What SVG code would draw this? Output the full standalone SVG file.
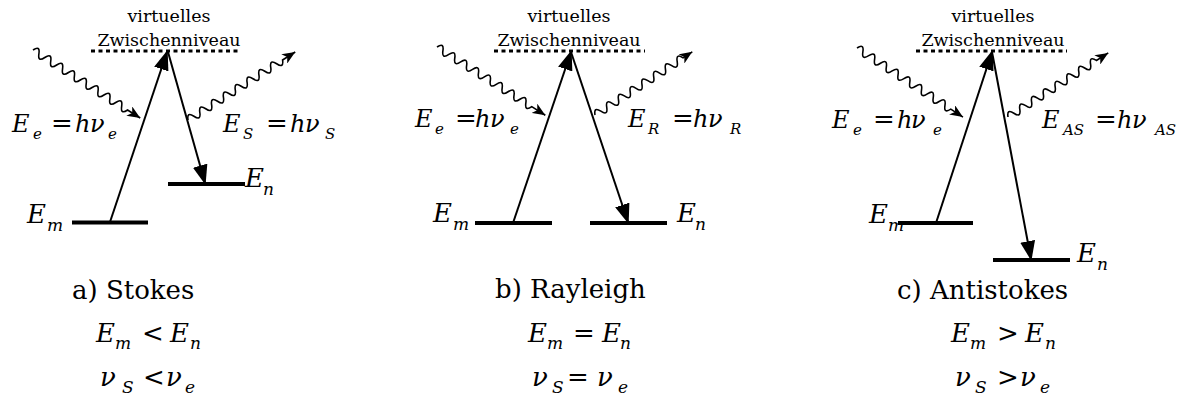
<svg xmlns="http://www.w3.org/2000/svg" width="1192" height="400" viewBox="0 0 1192 400">
<style>
text { font-family: 'DejaVu Serif', serif; fill: #000; }
.i { font-style: italic; }
.u { font-style: normal; }
.eq { font-size: 24px; }
.eq .s { font-size: 15px; }
.eq .u { font-size: 26px; }
.lv { font-size: 26px; }
.lv .s { font-size: 17px; }
.cap { font-size: 26px; }
.vz { font-size: 17.5px; }
.bar { stroke: #000; stroke-width: 4; }
.dot { stroke: #000; stroke-width: 3; stroke-dasharray: 4 3.5; }
.tr { stroke: #000; stroke-width: 2; fill: none; marker-end: url(#ah); }
.wv { stroke: #000; stroke-width: 1.6; fill: none; marker-end: url(#wh); }
</style>
<defs>
<marker id="ah" markerUnits="userSpaceOnUse" markerWidth="20" markerHeight="15" refX="18" refY="7.5" orient="auto">
<path d="M0,0 L20,7.5 L0,15 z" fill="#000"/>
</marker>
<marker id="wh" markerUnits="userSpaceOnUse" markerWidth="14" markerHeight="11" refX="13" refY="5.5" orient="auto">
<path d="M0,0 L13,5.5 L0,11 L3.5,5.5 z" fill="#000"/>
</marker>
</defs>

<!-- Panel a: Stokes -->
<g id="a-virtual">
<text class="vz" x="169" y="22" text-anchor="middle">virtuelles</text>
<text class="vz" x="169" y="46" text-anchor="middle">Zwischenniveau</text>
<line class="dot" x1="91" y1="51" x2="241" y2="51"/>
</g>
<g id="a-Em">
<line class="bar" x1="72" y1="222.5" x2="148" y2="222.5"/>
<text class="lv i"><tspan x="27" y="223">E</tspan><tspan class="s" x="47" y="231">m</tspan></text>
</g>
<g id="a-En">
<line class="bar" x1="168" y1="184" x2="245" y2="184"/>
<text class="lv i"><tspan x="245" y="187">E</tspan><tspan class="s" x="263" y="195">n</tspan></text>
</g>
<g id="a-Ee">
<text class="eq i"><tspan x="12" y="132">E</tspan><tspan class="s" x="33" y="139">e</tspan><tspan class="u" x="51" y="132">=</tspan><tspan x="75" y="132">h</tspan><tspan x="90" y="132">ν</tspan><tspan class="s" x="108" y="139">e</tspan></text>
</g>
<g id="a-Es">
<text class="eq i"><tspan x="223" y="132">E</tspan><tspan class="s" x="243" y="139">S</tspan><tspan class="u" x="266" y="132">=</tspan><tspan x="290" y="132">h</tspan><tspan x="305" y="132">ν</tspan><tspan class="s" x="325" y="139">S</tspan></text>
</g>
<g id="a-caption">
<text class="cap" x="72" y="299">a) Stokes</text>
<text class="lv i"><tspan x="96" y="342">E</tspan><tspan class="s" x="115" y="349">m</tspan><tspan class="u" x="142" y="342">&lt;</tspan><tspan x="170" y="342">E</tspan><tspan class="s" x="190" y="349">n</tspan></text>
<text class="lv i"><tspan x="100" y="386">ν</tspan><tspan class="s" x="122" y="393">S</tspan><tspan class="u" x="143" y="386">&lt;</tspan><tspan x="166" y="386">ν</tspan><tspan class="s" x="185" y="393">e</tspan></text>
</g>

<!-- Panel b: Rayleigh -->
<g id="b-virtual">
<text class="vz" x="569" y="22" text-anchor="middle">virtuelles</text>
<text class="vz" x="569" y="46" text-anchor="middle">Zwischenniveau</text>
<line class="dot" x1="494" y1="51" x2="645" y2="51"/>
</g>
<g id="b-Em">
<line class="bar" x1="475" y1="223" x2="552" y2="223"/>
<text class="lv i"><tspan x="433" y="222">E</tspan><tspan class="s" x="453" y="230">m</tspan></text>
</g>
<g id="b-En">
<line class="bar" x1="590" y1="223" x2="667" y2="223"/>
<text class="lv i"><tspan x="677" y="222">E</tspan><tspan class="s" x="695" y="230">n</tspan></text>
</g>
<g id="b-Ee">
<text class="eq i"><tspan x="415" y="127">E</tspan><tspan class="s" x="435" y="134">e</tspan><tspan class="u" x="455" y="127">=</tspan><tspan x="475" y="127">h</tspan><tspan x="490" y="127">ν</tspan><tspan class="s" x="510" y="134">e</tspan></text>
</g>
<g id="b-Er">
<text class="eq i"><tspan x="628" y="127">E</tspan><tspan class="s" x="648" y="134">R</tspan><tspan class="u" x="672" y="127">=</tspan><tspan x="693" y="127">h</tspan><tspan x="708" y="127">ν</tspan><tspan class="s" x="730" y="134">R</tspan></text>
</g>
<g id="b-caption">
<text class="cap" x="495" y="298">b) Rayleigh</text>
<text class="lv i"><tspan x="528" y="342">E</tspan><tspan class="s" x="547" y="349">m</tspan><tspan class="u" x="573" y="342">=</tspan><tspan x="602" y="342">E</tspan><tspan class="s" x="620" y="349">n</tspan></text>
<text class="lv i"><tspan x="532" y="386">ν</tspan><tspan class="s" x="552" y="393">S</tspan><tspan class="u" x="567" y="386">=</tspan><tspan x="597" y="386">ν</tspan><tspan class="s" x="618" y="393">e</tspan></text>
</g>

<!-- Panel c: Antistokes -->
<g id="c-virtual">
<text class="vz" x="993" y="22" text-anchor="middle">virtuelles</text>
<text class="vz" x="993" y="46" text-anchor="middle">Zwischenniveau</text>
<line class="dot" x1="916" y1="51" x2="1067" y2="51"/>
</g>
<g id="c-Em">
<line class="bar" x1="898" y1="223" x2="973" y2="223"/>
<text class="lv i"><tspan x="869" y="223">E</tspan><tspan class="s" x="888" y="231">m</tspan></text>
</g>
<g id="c-En">
<line class="bar" x1="993" y1="260" x2="1070" y2="260"/>
<text class="lv i"><tspan x="1077" y="262">E</tspan><tspan class="s" x="1097" y="270">n</tspan></text>
</g>
<g id="c-Ee">
<text class="eq i"><tspan x="832" y="128">E</tspan><tspan class="s" x="853" y="135">e</tspan><tspan class="u" x="873" y="128">=</tspan><tspan x="897" y="128">h</tspan><tspan x="911" y="128">ν</tspan><tspan class="s" x="933" y="135">e</tspan></text>
</g>
<g id="c-Eas">
<text class="eq i"><tspan x="1042" y="128">E</tspan><tspan class="s" x="1063" y="135">AS</tspan><tspan class="u" x="1095" y="128">=</tspan><tspan x="1117" y="128">h</tspan><tspan x="1132" y="128">ν</tspan><tspan class="s" x="1155" y="135">AS</tspan></text>
</g>
<g id="c-caption">
<text class="cap" x="897" y="299">c) Antistokes</text>
<text class="lv i"><tspan x="951" y="342">E</tspan><tspan class="s" x="970" y="349">m</tspan><tspan class="u" x="997" y="342">&gt;</tspan><tspan x="1025" y="342">E</tspan><tspan class="s" x="1045" y="349">n</tspan></text>
<text class="lv i"><tspan x="955" y="386">ν</tspan><tspan class="s" x="975" y="393">S</tspan><tspan class="u" x="997" y="386">&gt;</tspan><tspan x="1020" y="386">ν</tspan><tspan class="s" x="1040" y="393">e</tspan></text>
</g>

<g id="connectors">
<line class="tr" x1="110" y1="222" x2="167" y2="52"/>
<line class="tr" x1="168" y1="52" x2="205" y2="183"/>
<line class="tr" x1="513" y1="223" x2="571" y2="52"/>
<line class="tr" x1="571" y1="52" x2="628" y2="222"/>
<line class="tr" x1="936" y1="223" x2="992" y2="52"/>
<line class="tr" x1="992" y1="52" x2="1031" y2="259"/>
<path class="wv" transform="translate(33,50) rotate(32.4)" d="M0,0 q3.5,-8 7,0 t7,0 t7,0 t7,0 t7,0 t7,0 t7,0 t7,0 t7,0 t7,0 t7,0 t7,0 t7,0 t7,0 t7,0 t7,0 h15"/>
<path class="wv" transform="translate(188,120) rotate(-32.4)" d="M0,0 q3.5,-8 7,0 t7,0 t7,0 t7,0 t7,0 t7,0 t7,0 t7,0 t7,0 t7,0 t7,0 t7,0 t7,0 t7,0 t7,0 t7,0 h15"/>
<path class="wv" transform="translate(437,47) rotate(32.2)" d="M0,0 q3.5,-8 7,0 t7,0 t7,0 t7,0 t7,0 t7,0 t7,0 t7,0 t7,0 t7,0 t7,0 t7,0 t7,0 t7,0 t7,0 t7,0 h16"/>
<path class="wv" transform="translate(595,115) rotate(-33)" d="M0,0 q3.5,-8 7,0 t7,0 t7,0 t7,0 t7,0 t7,0 t7,0 t7,0 t7,0 t7,0 t7,0 t7,0 t7,0 t7,0 t7,0 h11"/>
<path class="wv" transform="translate(857,48) rotate(33.1)" d="M0,0 q3.5,-8 7,0 t7,0 t7,0 t7,0 t7,0 t7,0 t7,0 t7,0 t7,0 t7,0 t7,0 t7,0 t7,0 t7,0 t7,0 t7,0 h14.5"/>
<path class="wv" transform="translate(1008,117) rotate(-32.6)" d="M0,0 q3.5,-8 7,0 t7,0 t7,0 t7,0 t7,0 t7,0 t7,0 t7,0 t7,0 t7,0 t7,0 t7,0 t7,0 t7,0 t7,0 h14"/>
</g>
</svg>
